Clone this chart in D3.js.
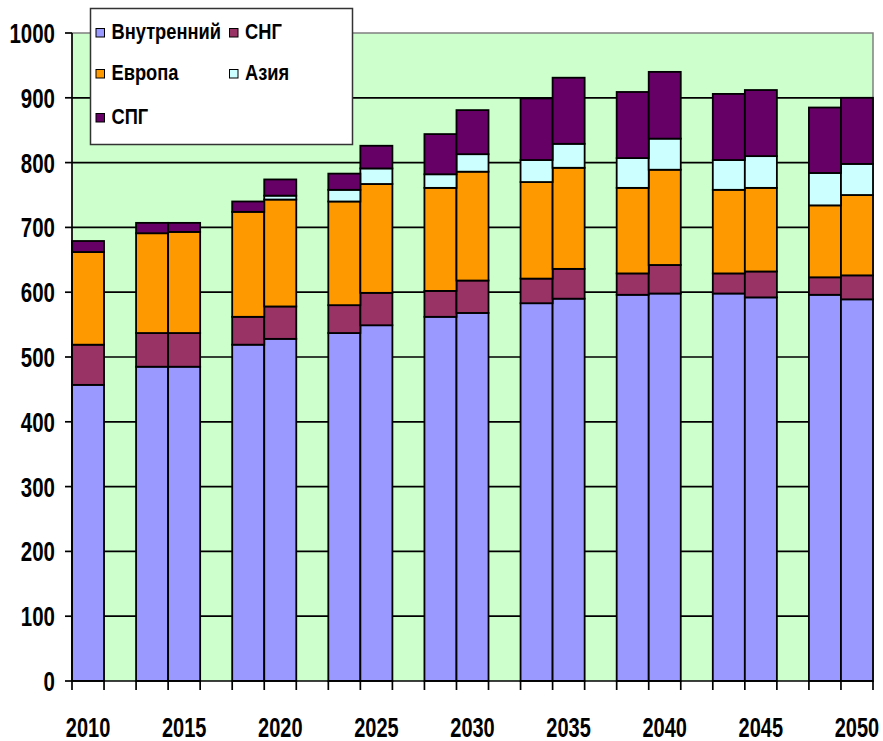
<!DOCTYPE html>
<html>
<head>
<meta charset="utf-8">
<script src="https://cdn.jsdelivr.net/npm/d3@7"></script>
<style>
  html, body { margin: 0; padding: 0; background: #ffffff; }
  svg { display: block; }
  text { font-family: "Liberation Sans", Arial, sans-serif; font-weight: bold; fill: #000; }
</style>
</head>
<body>
<svg id="chart" width="883" height="741"></svg>
<script>
// ---- Data ----
const categories = ["2010","","","2015","","","2020","","","2025","","","2030","","","2035","","","2040","","","2045","","","2050"];
const seriesNames = ["Внутренний", "СНГ", "Европа", "Азия", "СПГ"];
const domestic = [457,null,485,485,null,519,528,null,537,549,null,562,568,null,583,590,null,596,598,null,598,592,null,596,589];
const cis      = [62,null,52,52,null,43,50,null,43,50,null,40,50,null,38,46,null,33,44,null,31,40,null,27,37];
const europe   = [143,null,154,156,null,162,165,null,160,168,null,159,168,null,149,156,null,132,147,null,129,129,null,111,124];
const asia     = [0,null,0,0,null,0,6,null,18,24,null,21,27,null,34,37,null,46,48,null,46,49,null,50,48];
const lng      = [17,null,16,14,null,16,25,null,25,35,null,62,68,null,95,102,null,102,103,null,102,102,null,101,102];
const yTicks = [0,100,200,300,400,500,600,700,800,900,1000];
const colors = ["#9999FF", "#993366", "#FF9900", "#CCFFFF", "#660066"];

(function () {
// ---- Build table ----
const seriesArrays = [domestic, cis, europe, asia, lng];
const rows = categories.map((c, i) => {
  const r = { idx: i, label: c, gap: domestic[i] === null };
  seriesNames.forEach((k, j) => { r[k] = seriesArrays[j][i] === null ? 0 : seriesArrays[j][i]; });
  return r;
});

const svg = d3.select("#chart");
const pL = 72, pR = 873, pT = 33, pB = 681;

const x = d3.scaleBand().domain(d3.range(categories.length)).range([pL, pR]).padding(0);
const y = d3.scaleLinear().domain([0, 1000]).range([pB, pT]);

// plot background
svg.append("rect").attr("x", pL).attr("y", pT)
  .attr("width", pR - pL).attr("height", pB - pT)
  .attr("fill", "#CCFFCC");

// gridlines
svg.append("g").selectAll("line").data(yTicks.filter(t => t > 0 && t < 1000)).join("line")
  .attr("x1", pL).attr("x2", pR)
  .attr("y1", d => y(d)).attr("y2", d => y(d))
  .attr("stroke", "#000").attr("stroke-width", 1.7);

// plot border (top / right)
svg.append("path")
  .attr("d", `M${pL},${y(1000)}H${pR}V${pB}`)
  .attr("fill", "none").attr("stroke", "#808080").attr("stroke-width", 1.5);

// stacked bars
const stack = d3.stack().keys(seriesNames);
const stacked = stack(rows);
const gBars = svg.append("g");
stacked.forEach((layer, j) => {
  gBars.append("g").selectAll("rect")
    .data(layer.filter(d => !d.data.gap && d[1] - d[0] > 0))
    .join("rect")
    .attr("x", d => x(d.data.idx))
    .attr("width", x.bandwidth())
    .attr("y", d => y(d[1]))
    .attr("height", d => y(d[0]) - y(d[1]))
    .attr("fill", colors[j])
    .attr("stroke", "#000")
    .attr("stroke-width", 1.8);
});

// y axis
svg.append("line").attr("x1", pL).attr("x2", pL).attr("y1", pT).attr("y2", pB)
  .attr("stroke", "#000").attr("stroke-width", 1.7);
const gy = svg.append("g");
gy.selectAll("line").data(yTicks).join("line")
  .attr("x1", pL - 7).attr("x2", pL)
  .attr("y1", d => y(d)).attr("y2", d => y(d))
  .attr("stroke", "#000").attr("stroke-width", 1.7);
gy.selectAll("text").data(yTicks).join("text")
  .attr("text-anchor", "end")
  .attr("font-size", 20.5)
  .attr("transform", d => `translate(55,${y(d) + 10}) scale(1,1.38)`)
  .text(d => d);

// x axis
svg.append("line").attr("x1", pL).attr("x2", pR).attr("y1", pB).attr("y2", pB)
  .attr("stroke", "#000").attr("stroke-width", 1.7);
const boundaries = d3.range(categories.length).map(i => x(i)).concat([x.range()[1]]);
svg.append("g").selectAll("line").data(boundaries).join("line")
  .attr("x1", d => d).attr("x2", d => d)
  .attr("y1", pB).attr("y2", pB + 9)
  .attr("stroke", "#000").attr("stroke-width", 1.7);
svg.append("g").selectAll("text").data(rows.filter(r => r.label !== "")).join("text")
  .attr("text-anchor", "middle")
  .attr("font-size", 20)
  .attr("transform", d => `translate(${x(d.idx) + x.bandwidth() / 2},736.5) scale(1,1.4)`)
  .text(d => d.label);

// legend
const lg = svg.append("g");
lg.append("rect").attr("x", 90.5).attr("y", 8.5).attr("width", 262).attr("height", 136)
  .attr("fill", "#fff").attr("stroke", "#333").attr("stroke-width", 1.5);
const legendPos = [
  { x: 96, y: 28.5 }, { x: 229.5, y: 28.5 },
  { x: 96, y: 69.5 }, { x: 229.5, y: 69.5 },
  { x: 96, y: 113.5 }
];
seriesNames.forEach((name, j) => {
  const p = legendPos[j];
  lg.append("rect").attr("x", p.x).attr("y", p.y).attr("width", 8.5).attr("height", 8.5)
    .attr("fill", colors[j]).attr("stroke", "#000").attr("stroke-width", 1);
  lg.append("text")
    .attr("font-size", 18.3)
    .attr("transform", `translate(${p.x + 15.5},${p.y + 10.5}) scale(1,1.2)`)
    .text(name);
});
})();
</script>
</body>
</html>
